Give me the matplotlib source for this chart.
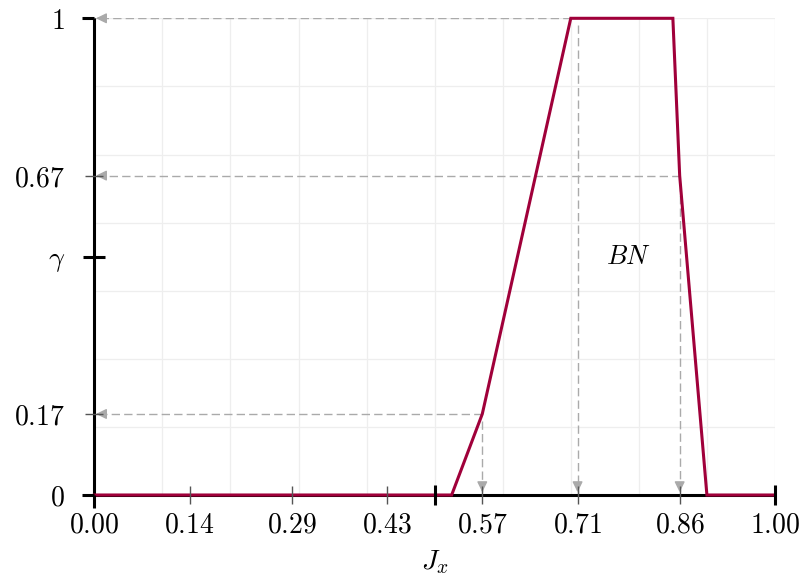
import numpy as np
import matplotlib
matplotlib.use("Agg")
import matplotlib.pyplot as plt
import matplotlib.lines as mlines

plt.rcParams["mathtext.fontset"] = "cm"
plt.rcParams["font.family"] = ["DejaVu Serif"]

# Membership function of the fuzzy set BN over the normalised index J_x
jx_points = [0.0, 0.525, 0.57, 0.70, 0.85, 0.86, 0.90, 1.0]
mu_points = [0.0, 0.0, 0.17, 1.0, 1.0, 0.67, 0.0, 0.0]

# Projections of selected points onto the axes
h_guides_x = [0.57, 0.70, 0.86]
h_guides_y = [0.17, 1.0, 0.67]
v_guides_x = [0.57, 0.71, 0.86]
v_guides_y = [0.17, 1.0, 0.67]

x_ticks = [0.0, 0.14, 0.29, 0.43, 0.5, 0.57, 0.71, 0.86, 1.0]
x_labels = ["0.00", "0.14", "0.29", "0.43", "", "0.57", "0.71", "0.86", "1.00"]
x_bold = [0.0, 0.5, 1.0]

y_ticks = [0.0, 0.17, 0.5, 0.67, 1.0]
y_labels = ["0", "0.17", r"\gamma", "0.67", "1"]
y_bold = [0.0, 0.5, 1.0]

set_label = "BN"
set_label_pos = (0.785, 0.5)

curve_color = "#a0003a"
guide_color = "#aaaaaa"
grid_color = "#eeeeee"

fig = plt.figure(figsize=(8.06, 5.81), dpi=100)
ax = fig.add_axes([0.117, 0.148, 0.9615 - 0.117, 0.9685 - 0.148])
ax.set_xlim(0, 1)
ax.set_ylim(0, 1)
ax.set_axisbelow(False)

# light background grid
for gx in np.arange(1, 11) / 10:
    ax.axvline(gx, color=grid_color, lw=0.9, zorder=0.5)
for gy in np.arange(1, 8) / 7:
    ax.axhline(gy, color=grid_color, lw=0.9, zorder=0.5)

# dashed projection guides with arrowheads at the axes
dash = (0, (6, 3))
for hx, hy in zip(h_guides_x, h_guides_y):
    ax.plot([hx, 0], [hy, hy], color=guide_color, lw=1.0, ls=dash, zorder=1)
    ax.annotate("", xy=(0, hy), xytext=(7, 0), textcoords="offset points",
                arrowprops=dict(arrowstyle="-|>,head_length=0.45,head_width=0.22",
                                color=guide_color, lw=1.0, mutation_scale=14,
                                shrinkA=0, shrinkB=1.2), zorder=1.2)
for vx, vy in zip(v_guides_x, v_guides_y):
    ax.plot([vx, vx], [vy - 0.015, 0], color=guide_color, lw=1.0, ls=dash, zorder=1)
    ax.annotate("", xy=(vx, 0), xytext=(0, 7), textcoords="offset points",
                arrowprops=dict(arrowstyle="-|>,head_length=0.45,head_width=0.22",
                                color=guide_color, lw=1.0, mutation_scale=14,
                                shrinkA=0, shrinkB=2.0), zorder=1.2)

# membership curve
ax.plot(jx_points, mu_points, color=curve_color, lw=2.2, zorder=2.2,
        clip_on=False, solid_joinstyle="miter")

ax.text(set_label_pos[0], set_label_pos[1], "$" + set_label + "$",
        fontsize=19, ha="center", va="center")

# spines
for side in ("top", "right"):
    ax.spines[side].set_visible(False)
for side in ("left", "bottom"):
    ax.spines[side].set_linewidth(2.2)
    ax.spines[side].set_color("black")
    ax.spines[side].set_zorder(2.0)
    ax.spines[side].set_capstyle("butt")

# ticks
ax.set_xticks(x_ticks)
ax.set_xticklabels(["$" + s + "$" if s else "" for s in x_labels], fontsize=20)
ax.set_yticks(y_ticks)
ax.set_yticklabels(["$" + s + "$" for s in y_labels], fontsize=20)
ax.tick_params(axis="x", direction="inout", length=13, width=1.0,
               color="#555555", pad=5.5)
ax.tick_params(axis="y", direction="inout", length=13, width=1.0,
               color="#555555", pad=14.5)

for tick, loc in zip(ax.xaxis.get_major_ticks(), x_ticks):
    if loc in x_bold:
        tick.tick1line.set_markeredgecolor("black")
        tick.tick1line.set_markeredgewidth(2.2)
        if loc == 0.0:
            tick.tick1line.set_marker(mlines.TICKDOWN)
            tick.tick1line.set_markersize(9)
        else:
            tick.tick1line.set_markersize(15)

for tick, loc in zip(ax.yaxis.get_major_ticks(), y_ticks):
    if loc in y_bold:
        tick.tick1line.set_markeredgecolor("black")
        tick.tick1line.set_markeredgewidth(2.2)
        if loc in (0.0, 1.0):
            tick.tick1line.set_marker(mlines.TICKLEFT)
            tick.tick1line.set_markersize(9)
        else:
            tick.tick1line.set_markersize(16)

ax.set_xlabel("$J_x$", fontsize=20, labelpad=7)

fig.savefig("out.png", dpi=100)
